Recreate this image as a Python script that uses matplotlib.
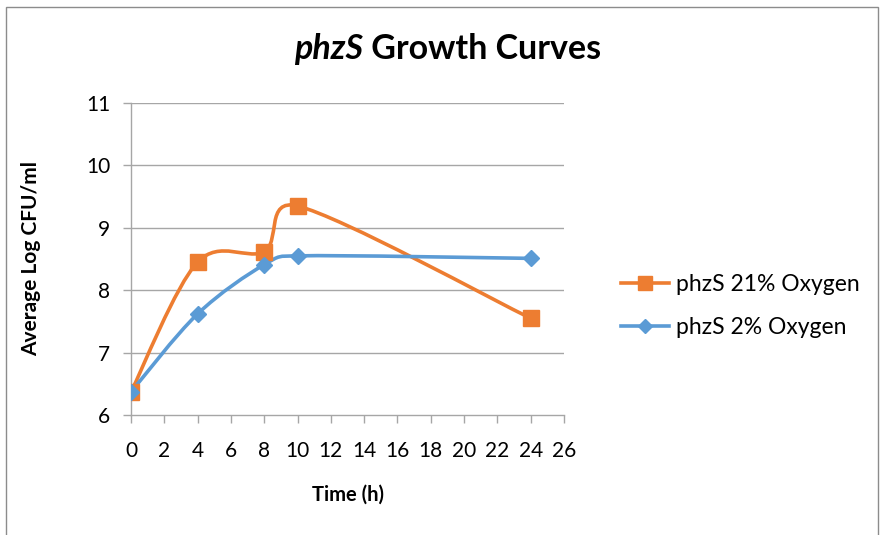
"""phzS growth curves under two oxygen levels (Excel-style smoothed lines)."""

import math

import matplotlib
matplotlib.use("Agg")
import matplotlib.pyplot as plt
from matplotlib.path import Path
from matplotlib.patches import PathPatch, Rectangle
from matplotlib.lines import Line2D

plt.rcParams["font.family"] = ["Lato", "DejaVu Sans"]

time_h = [0, 4, 8, 10, 24]
oxygen_21 = [6.37, 8.45, 8.62, 9.35, 7.55]
oxygen_2 = [6.37, 7.62, 8.41, 8.55, 8.51]

x_ticks = list(range(0, 27, 2))
y_ticks = [6, 7, 8, 9, 10, 11]

orange = "#ED7D31"
blue = "#5B9BD5"
grid_grey = "#A6A6A6"


def smooth_path(ax, xs, ys, cap=0.6):
    # Catmull-Rom bezier in pixel space, arms capped to a share of the chord
    tr = ax.transData
    pts = [tuple(tr.transform((x, y))) for x, y in zip(xs, ys)]
    n = len(pts)

    def arm(a, b, limit):
        dx, dy = (b[0] - a[0]) / 6, (b[1] - a[1]) / 6
        length = math.hypot(dx, dy)
        if length > limit and length > 0:
            dx, dy = dx * limit / length, dy * limit / length
        return dx, dy

    verts = [pts[0]]
    codes = [Path.MOVETO]
    for i in range(n - 1):
        p0 = pts[max(i - 1, 0)]
        p1 = pts[i]
        p2 = pts[i + 1]
        p3 = pts[min(i + 2, n - 1)]
        chord = math.hypot(p2[0] - p1[0], p2[1] - p1[1])
        a1 = arm(p0, p2, cap * chord)
        a2 = arm(p1, p3, cap * chord)
        verts += [(p1[0] + a1[0], p1[1] + a1[1]),
                  (p2[0] - a2[0], p2[1] - a2[1]), p2]
        codes += [Path.CURVE4] * 3
    inv = tr.inverted()
    return Path([tuple(inv.transform(v)) for v in verts], codes)


fig = plt.figure(figsize=(8.96, 5.35), dpi=100)
fig.patches.append(Rectangle((6 / 896, -0.05), 872 / 896, 1.05 - 7 / 535,
                             transform=fig.transFigure, fill=False,
                             edgecolor="#8C8C8C", linewidth=1))

ax = fig.add_axes([131 / 896, 1 - 415 / 535, 433 / 896, 312 / 535])
ax.set_xlim(0, 26)
ax.set_ylim(6, 11)

for y in y_ticks[1:]:
    ax.axhline(y, color=grid_grey, linewidth=1, zorder=0)

series = [
    ("phzS 21% Oxygen", oxygen_21, orange, "s", 11),
    ("phzS 2% Oxygen", oxygen_2, blue, "D", 8),
]
handles = []
for label, values, color, marker, msize in series:
    ax.add_patch(PathPatch(smooth_path(ax, time_h, values), facecolor="none",
                           edgecolor=color, linewidth=2.6, zorder=2,
                           capstyle="round", joinstyle="round"))
    ax.plot(time_h, values, linestyle="none", marker=marker, markersize=msize,
            color=color, markeredgecolor=color, zorder=3)
    handles.append(Line2D([], [], color=color, linewidth=2.6, marker=marker,
                          markersize=msize - 1, label=label))

for side in ["top", "right"]:
    ax.spines[side].set_visible(False)
for side in ["left", "bottom"]:
    ax.spines[side].set_color(grid_grey)
    ax.spines[side].set_linewidth(1)

ax.set_xticks(x_ticks)
ax.set_yticks(y_ticks)
ax.tick_params(axis="both", colors=grid_grey, labelcolor="black",
               labelsize=15, length=6, width=1)
ax.tick_params(axis="x", pad=13)
ax.tick_params(axis="y", pad=9)

ax.set_xlabel("Time (h)", fontsize=14.5, fontweight="bold", labelpad=17)
ax.set_ylabel("Average Log CFU/ml", fontsize=15, fontweight="bold",
              labelpad=32)

t1 = fig.text(0, 0, "phzS", fontsize=24.5, fontweight="bold", style="italic")
t2 = fig.text(0, 0, " Growth Curves", fontsize=24.5, fontweight="bold")
fig.canvas.draw()
r = fig.canvas.get_renderer()
w1 = t1.get_window_extent(r).width
w2 = t2.get_window_extent(r).width
x0 = 448 - (w1 + w2) / 2
t1.set_position((x0 / 896, 1 - 59 / 535))
t2.set_position(((x0 + w1) / 896, 1 - 59 / 535))

fig.legend(handles=handles, loc="center left",
           bbox_to_anchor=(600 / 896, 1 - 306 / 535),
           frameon=False, fontsize=16.5, handlelength=2.1, labelspacing=1.0,
           handletextpad=0.3)

fig.savefig("out.png", dpi=100)
